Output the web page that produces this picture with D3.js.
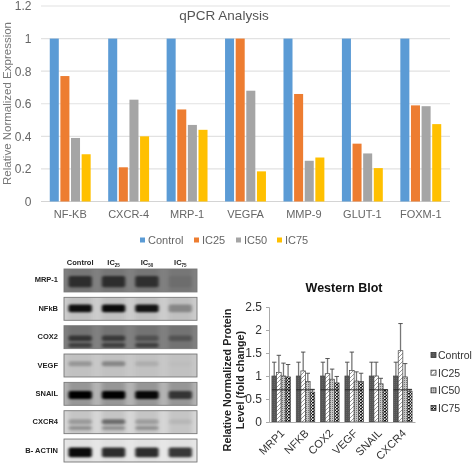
<!DOCTYPE html>
<html><head><meta charset="utf-8">
<script src="https://cdn.jsdelivr.net/npm/d3@7"></script>
<style>html,body{margin:0;padding:0;background:#fff}svg{display:block;filter:blur(0.35px)}text{font-family:"Liberation Sans",Arial,sans-serif}</style>
</head><body><svg id="c" width="472" height="464"></svg>
<script>
// qPCR chart
const qGenes=["NF-KB","CXCR-4","MRP-1","VEGFA","MMP-9","GLUT-1","FOXM-1"];
const qSeries=["Control","IC25","IC50","IC75"];
const qControl=[1,1,1,1,1,1,1];
const qIC25=[0.77,0.21,0.565,1,0.66,0.355,0.59];
const qIC50=[0.39,0.625,0.47,0.68,0.25,0.295,0.585];
const qIC75=[0.29,0.40,0.44,0.185,0.27,0.205,0.475];
const qColors=["#5B9BD5","#ED7D31","#A5A5A5","#FFC000"];
const qTicks=[0,0.2,0.4,0.6,0.8,1,1.2];
// Western blot chart
const wGenes=["MRP1","NFKB","COX2","VEGF","SNAIL","CXCR4"];
const wControl=[1,1,1,1,1,1];
const wIC25=[1.08,1.11,1.05,1.12,1,1.55];
const wIC50=[1,0.88,0.93,0.89,0.83,0.98];
const wIC75=[0.98,0.65,0.85,0.88,0.7,0.67];
const wControlTop=[1.3,1.3,1.3,1.3,1.3,1.3];
const wIC25Top=[1.45,1.52,1.38,1.52,1.3,2.14];
const wIC50Top=[1.28,1.06,1.15,1.09,0.95,1.27];
const wIC75Top=[1.25,0.71,0.99,1.06,0.7,0.71];
const wTicks=[0,0.5,1,1.5,2,2.5];
// Blot panels (darkness of background and bands, band placement as panel fraction)
const blotNames=["MRP-1","NFkB","COX2","VEGF","SNAIL","CXCR4","B- ACTIN"];
const blotLanes=["Control","IC25","IC50","IC75"];
const blotBg=[0.5,0.2,0.5,0.22,0.3,0.16,0.1];
const blotLaneTint=[0.08,0.06,0.1,0.03,0.16,0.08,0.02];
const blotBand1=[0.62,0.92,0.55,0.22,1,0.22,0.95];
const blotBand2=[0.62,0.95,0.5,0.3,1,0.45,0.8];
const blotBand3=[0.6,0.9,0.3,0.1,0.95,0.2,0.8];
const blotBand4=[0.08,0.3,0.28,0.02,0.65,0.07,0.75];
const blotSecond=[0,0,0.45,0,0,0.25,0];
const blotPos=[0.55,0.48,0.55,0.42,0.55,0.48,0.58];
const blotThick=[0.5,0.34,0.24,0.22,0.34,0.22,0.42];

const svg=d3.select("#c");
// ---- qPCR
const qx=d3.scaleBand().domain(qGenes).range([41,450]).paddingInner(0.3).paddingOuter(0.15);
const qx1=d3.scaleBand().domain(qSeries).range([0,qx.bandwidth()]).paddingInner(0.15);
const qy=d3.scaleLinear().domain([0,1.2]).range([201.5,6]);
const qVals=[qControl,qIC25,qIC50,qIC75];
const gy=svg.append("g").attr("transform","translate(41,0)")
  .call(d3.axisLeft(qy).tickValues(qTicks).tickFormat(d3.format("~g")).tickSize(0).tickPadding(9.5));
gy.select(".domain").remove();
gy.selectAll("text").attr("font-size",12).attr("fill","#666");
svg.append("g").selectAll("line").data(qTicks).join("line")
  .attr("x1",41).attr("x2",450).attr("y1",d=>qy(d)).attr("y2",d=>qy(d))
  .attr("stroke",d=>d===0?"#d4d4d4":"#e2e2e2").attr("stroke-width",1.2);
qSeries.forEach((s,si)=>{
  svg.append("g").selectAll("rect").data(qGenes).join("rect")
    .attr("x",g=>qx(g)+qx1(s)).attr("width",qx1.bandwidth())
    .attr("y",(g,i)=>qy(qVals[si][i])).attr("height",(g,i)=>qy(0)-qy(qVals[si][i]))
    .attr("fill",qColors[si]);
});
const gx=svg.append("g").attr("transform","translate(0,201.5)")
  .call(d3.axisBottom(qx).tickSize(0).tickPadding(9));
gx.select(".domain").remove();
gx.selectAll("text").attr("font-size",11).attr("fill","#666");
svg.append("text").attr("x",224).attr("y",20).attr("text-anchor","middle").attr("font-size",13.5).attr("fill","#555").text("qPCR Analysis");
svg.append("text").attr("transform","translate(10.5,103.5) rotate(-90)").attr("text-anchor","middle").attr("font-size",11.5).attr("fill","#777").text("Relative Normalized Expression");
const qLegX=d3.scaleOrdinal().domain(qSeries).range([140,194,236,277]);
const ql=svg.append("g").selectAll("g").data(qSeries).join("g").attr("transform",d=>`translate(${qLegX(d)},240)`);
ql.append("rect").attr("y",-2.5).attr("width",5).attr("height",5).attr("fill",(d,i)=>qColors[i]);
ql.append("text").attr("x",8).attr("y",4).attr("font-size",11).attr("fill","#666").text(d=>d);

// ---- Blots
const defs=svg.append("defs");
defs.append("filter").attr("id","bl").attr("x","-30%").attr("y","-100%").attr("width","160%").attr("height","300%")
  .append("feGaussianBlur").attr("stdDeviation","1.4 1");
defs.append("filter").attr("id","bl2").attr("x","-30%").attr("y","-30%").attr("width","160%").attr("height","160%")
  .append("feGaussianBlur").attr("stdDeviation","2");
const by=d3.scaleBand().domain(blotNames).range([269,462]).paddingInner(0.19).paddingOuter(0);
const bx=d3.scaleBand().domain(blotLanes).range([63.5,197]).paddingInner(0.3).paddingOuter(0.15);
const bandVals=[blotBand1,blotBand2,blotBand3,blotBand4];
const shade=d3.scaleLinear().domain([0,1]).range(["#ffffff","#000000"]);
blotNames.forEach((n,i)=>{
  const y0=by(n),h=by.bandwidth();
  const id="cp"+i;
  defs.append("clipPath").attr("id",id).append("rect").attr("x",64).attr("y",y0).attr("width",133).attr("height",h);
  const g=svg.append("g").attr("clip-path",`url(#${id})`);
  g.append("rect").attr("x",64).attr("y",y0).attr("width",133).attr("height",h).attr("fill",shade(blotBg[i]));
  const gt=g.append("g").attr("filter","url(#bl2)");
  blotLanes.forEach(l=>{
    gt.append("rect").attr("x",bx(l)).attr("width",bx.bandwidth()).attr("y",y0-4).attr("height",h+8)
      .attr("fill","#000").attr("opacity",blotLaneTint[i]);
  });
  const gb=g.append("g").attr("filter","url(#bl)");
  blotLanes.forEach((l,li)=>{
    const d=bandVals[li][i], t=h*blotThick[i], c=y0+h*blotPos[i];
    gb.append("rect").attr("x",bx(l)).attr("width",bx.bandwidth())
      .attr("y",c-t/2).attr("height",t).attr("rx",2)
      .attr("fill","#000").attr("opacity",d);
    if(blotSecond[i]>0&&li<3){
      gb.append("rect").attr("x",bx(l)).attr("width",bx.bandwidth())
        .attr("y",c+t*0.85).attr("height",t*0.8).attr("rx",2)
        .attr("fill","#000").attr("opacity",blotSecond[i]);
    }
  });
  svg.append("rect").attr("x",64).attr("y",y0).attr("width",133).attr("height",h).attr("fill","none").attr("stroke","#777").attr("stroke-width",0.9);
  svg.append("text").attr("x",58).attr("y",y0+h/2+2).attr("text-anchor","end").attr("font-size",7.5).attr("font-weight","bold").attr("fill","#222").text(n);
});
const laneLabels=svg.append("g").selectAll("text").data(blotLanes).join("text")
  .attr("x",d=>bx(d)+bx.bandwidth()/2).attr("y",265).attr("text-anchor","middle")
  .attr("font-size",7.5).attr("font-weight","bold").attr("fill","#222");
laneLabels.each(function(d){
  const t=d3.select(this);
  if(d.startsWith("IC")){t.append("tspan").text("IC");t.append("tspan").attr("font-size",4.5).attr("dy",1.5).text(d.slice(2));}
  else t.text(d);
});

// ---- Western blot bars
const pat=(id,w,h,bg,draw)=>{const p=defs.append("pattern").attr("id",id).attr("patternUnits","userSpaceOnUse").attr("width",w).attr("height",h);
  p.append("rect").attr("width",w).attr("height",h).attr("fill",bg);draw(p);};
pat("pC",2,2,"#555",p=>p.append("rect").attr("width",1).attr("height",1).attr("fill","#666"));
pat("p25",4,4,"#fff",p=>p.append("path").attr("d","M-1,1L1,-1M0,4L4,0M3,5L5,3").attr("stroke","#999").attr("stroke-width",1));
pat("p50",2,2,"#c8c8c8",p=>p.append("rect").attr("width",1).attr("height",1).attr("fill","#777"));
pat("p75",3,3,"#eee",p=>{p.append("rect").attr("width",2).attr("height",1.5).attr("fill","#111");p.append("rect").attr("x",1.5).attr("y",1.5).attr("width",1.5).attr("height",1.5).attr("fill","#222");});
const wFill=["url(#pC)","url(#p25)","url(#p50)","url(#p75)"];
const wx=d3.scaleBand().domain(wGenes).range([269,415]).paddingInner(0.24).paddingOuter(0.12);
const wx1=d3.scaleBand().domain(qSeries).range([0,wx.bandwidth()]);
const wy=d3.scaleLinear().domain([0,2.5]).range([422,307]);
const wVals=[wControl,wIC25,wIC50,wIC75], wTops=[wControlTop,wIC25Top,wIC50Top,wIC75Top];
qSeries.forEach((s,si)=>{
  const c=wx1.bandwidth()/2;
  const g=svg.append("g");
  g.selectAll("line.e").data(wGenes).join("line").attr("class","e")
    .attr("x1",d=>wx(d)+wx1(s)+c).attr("x2",d=>wx(d)+wx1(s)+c)
    .attr("y1",(d,i)=>wy(wVals[si][i])).attr("y2",(d,i)=>wy(wTops[si][i]))
    .attr("stroke","#777").attr("stroke-width",1.3);
  g.selectAll("line.c").data(wGenes).join("line").attr("class","c")
    .attr("x1",d=>wx(d)+wx1(s)+c-2.2).attr("x2",d=>wx(d)+wx1(s)+c+2.2)
    .attr("y1",(d,i)=>wy(wTops[si][i])).attr("y2",(d,i)=>wy(wTops[si][i]))
    .attr("stroke","#444").attr("stroke-width",0.9);
  g.selectAll("rect").data(wGenes).join("rect")
    .attr("x",d=>wx(d)+wx1(s)).attr("width",wx1.bandwidth())
    .attr("y",(d,i)=>wy(wVals[si][i])).attr("height",(d,i)=>wy(0)-wy(wVals[si][i]))
    .attr("fill",wFill[si]).attr("stroke","#444").attr("stroke-width",0.7);
});
wGenes.forEach(d=>{
  svg.append("line").attr("x1",wx(d)).attr("x2",wx(d)+wx.bandwidth())
    .attr("y1",wy(0.7)).attr("y2",wy(0.7)).attr("stroke","#222").attr("stroke-width",0.9);
});
const way=svg.append("g").attr("transform","translate(269,0)")
  .call(d3.axisLeft(wy).tickValues(wTicks).tickFormat(d3.format("~g")).tickSize(3).tickPadding(4));
way.select(".domain").attr("stroke","#aaa");way.selectAll("line").attr("stroke","#aaa");
way.selectAll("text").attr("font-size",12).attr("fill","#333");
const wax=svg.append("g").attr("transform","translate(0,422)")
  .call(d3.axisBottom(wx).tickSize(0));
wax.select(".domain").attr("stroke","#aaa");
wax.selectAll("text").attr("font-size",11).attr("fill","#333").attr("text-anchor","end")
  .attr("transform","translate(-2,6) rotate(-45)").attr("dy","0.5em");
svg.append("text").attr("x",344).attr("y",291.5).attr("text-anchor","middle").attr("font-size",12.5).attr("font-weight","bold").attr("fill","#111").text("Western Blot");
svg.append("text").attr("transform","translate(231,380) rotate(-90)").attr("text-anchor","middle").attr("font-size",10.8).attr("font-weight","bold").attr("fill","#222").text("Relative Normalized  Protein");
svg.append("text").attr("transform","translate(244,380) rotate(-90)").attr("text-anchor","middle").attr("font-size",10.8).attr("font-weight","bold").attr("fill","#222").text("Level (fold change)");
const wLegY=d3.scalePoint().domain(qSeries).range([355,408]);
const wl=svg.append("g").selectAll("g").data(qSeries).join("g").attr("transform",d=>`translate(431,${wLegY(d)})`);
wl.append("rect").attr("y",-2.5).attr("width",5).attr("height",5).attr("fill",(d,i)=>wFill[i]).attr("stroke","#333").attr("stroke-width",0.8);
wl.append("text").attr("x",7).attr("y",4).attr("font-size",10.5).attr("fill","#333").text(d=>d);
</script></body></html>
